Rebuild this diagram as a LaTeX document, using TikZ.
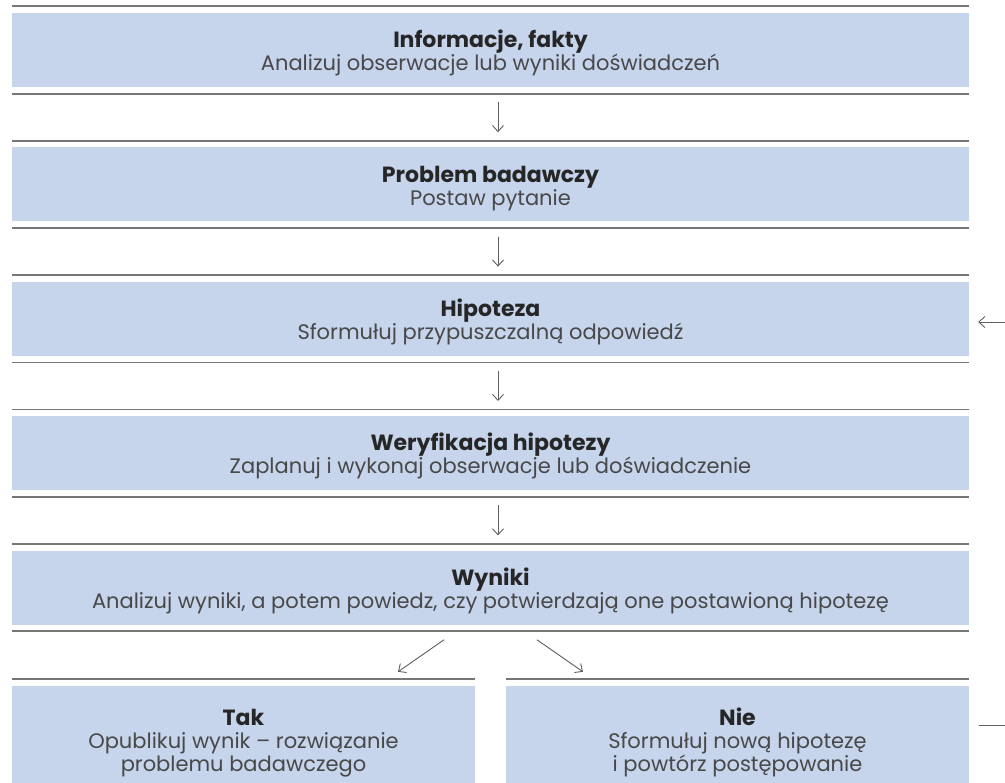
\documentclass[tikz,border=0pt]{standalone}
\usepackage{fontspec}
\setmainfont{Poppins}
\usetikzlibrary{positioning,arrows.meta,calc}

\definecolor{boxblue}{RGB}{198,212,236}
\definecolor{rulegray}{RGB}{118,118,118}
\definecolor{bodygray}{RGB}{72,72,72}
\newcommand{\heading}[1]{{\fontsize{22}{23}\selectfont\bfseries\color{black!85}\rule{0pt}{24pt}#1}}

\begin{document}
\begin{tikzpicture}[
    x=1pt, y=1pt,
    node distance=60pt,
    stage/.style={rectangle, fill=boxblue, minimum width=957pt, minimum height=74pt, inner sep=0pt, align=center, text=bodygray, font=\fontsize{21}{23}\selectfont},
    answer/.style={stage, minimum width=463pt, minimum height=107pt},
    sepline/.style={draw=rulegray, line width=1.8pt},
    arrow/.style={-{Straight Barb[length=6pt,width=11pt]}, draw=rulegray!80!black, line width=0.9pt}
]

\useasboundingbox (0,0) rectangle (1005,-783);

% etapy
\node[stage] (info) at (490.5,-50) {\heading{Informacje, fakty}\\Analizuj obserwacje lub wyniki doświadczeń};
\node[stage, below=of info] (problem) {\heading{Problem badawczy}\\Postaw pytanie};
\node[stage, below=of problem] (hipoteza) {\heading{Hipoteza}\\Sformułuj przypuszczalną odpowiedź};
\node[stage, below=of hipoteza] (weryfikacja) {\heading{Weryfikacja hipotezy}\\Zaplanuj i wykonaj obserwacje lub doświadczenie};
\node[stage, below=of weryfikacja] (wyniki) {\heading{Wyniki}\\Analizuj wyniki, a potem powiedz, czy potwierdzają one postawioną hipotezę};

% odpowiedzi (dol obciety krawedzia obrazka)
\node[answer, anchor=north west] (tak) at ($(wyniki.south west)+(0,-61)$) {\heading{Tak}\\Opublikuj wynik – rozwiązanie\\problemu badawczego};
\node[answer, anchor=north east] (nie) at ($(wyniki.south east)+(0,-61)$) {\heading{Nie}\\Sformułuj nową hipotezę\\i powtórz postępowanie};

% linie nad i pod etapami
\draw[sepline] ([yshift=6.5pt]info.north west) -- ([yshift=6.5pt]info.north east);
\draw[sepline] ([yshift=-6.5pt]info.south west) -- ([yshift=-6.5pt]info.south east);
\draw[sepline] ([yshift=6.5pt]problem.north west) -- ([yshift=6.5pt]problem.north east);
\draw[sepline] ([yshift=-6.5pt]problem.south west) -- ([yshift=-6.5pt]problem.south east);
\draw[sepline] ([yshift=6.5pt]hipoteza.north west) -- ([yshift=6.5pt]hipoteza.north east);
\draw[sepline] ([yshift=-6.5pt]hipoteza.south west) -- ([yshift=-6.5pt]hipoteza.south east);
\draw[sepline] ([yshift=6.5pt]weryfikacja.north west) -- ([yshift=6.5pt]weryfikacja.north east);
\draw[sepline] ([yshift=-6.5pt]weryfikacja.south west) -- ([yshift=-6.5pt]weryfikacja.south east);
\draw[sepline] ([yshift=6.5pt]wyniki.north west) -- ([yshift=6.5pt]wyniki.north east);
\draw[sepline] ([yshift=-6.5pt]wyniki.south west) -- ([yshift=-6.5pt]wyniki.south east);
\draw[sepline] ([yshift=6.5pt]tak.north west) -- ([yshift=6.5pt]tak.north east);
\draw[sepline] ([yshift=6.5pt]nie.north west) -- ([yshift=6.5pt]nie.north east);

% strzalki
\draw[arrow] ([xshift=7.5pt,yshift=-15pt]info.south) -- ([xshift=7.5pt,yshift=15pt]problem.north);
\draw[arrow] ([xshift=7.5pt,yshift=-15pt]problem.south) -- ([xshift=7.5pt,yshift=15pt]hipoteza.north);
\draw[arrow] ([xshift=7.5pt,yshift=-15pt]hipoteza.south) -- ([xshift=7.5pt,yshift=15pt]weryfikacja.north);
\draw[arrow] ([xshift=7.5pt,yshift=-15pt]weryfikacja.south) -- ([xshift=7.5pt,yshift=15pt]wyniki.north);
\draw[arrow] ([xshift=-46.5pt,yshift=-15pt]wyniki.south) -- ([xshift=154.5pt,yshift=14pt]tak.north);
\draw[arrow] ([xshift=46.5pt,yshift=-15pt]wyniki.south) -- ([xshift=-154.5pt,yshift=14pt]nie.north);

% powrot
\coordinate (powrot_in) at (1005,-322);
\coordinate (powrot_out) at (1005,-725);
\draw[arrow] (powrot_in) -- ([xshift=9pt]hipoteza.east |- powrot_in);
\draw[arrow, -] ([xshift=10pt]nie.east |- powrot_out) -- (powrot_out);

\end{tikzpicture}
\end{document}
